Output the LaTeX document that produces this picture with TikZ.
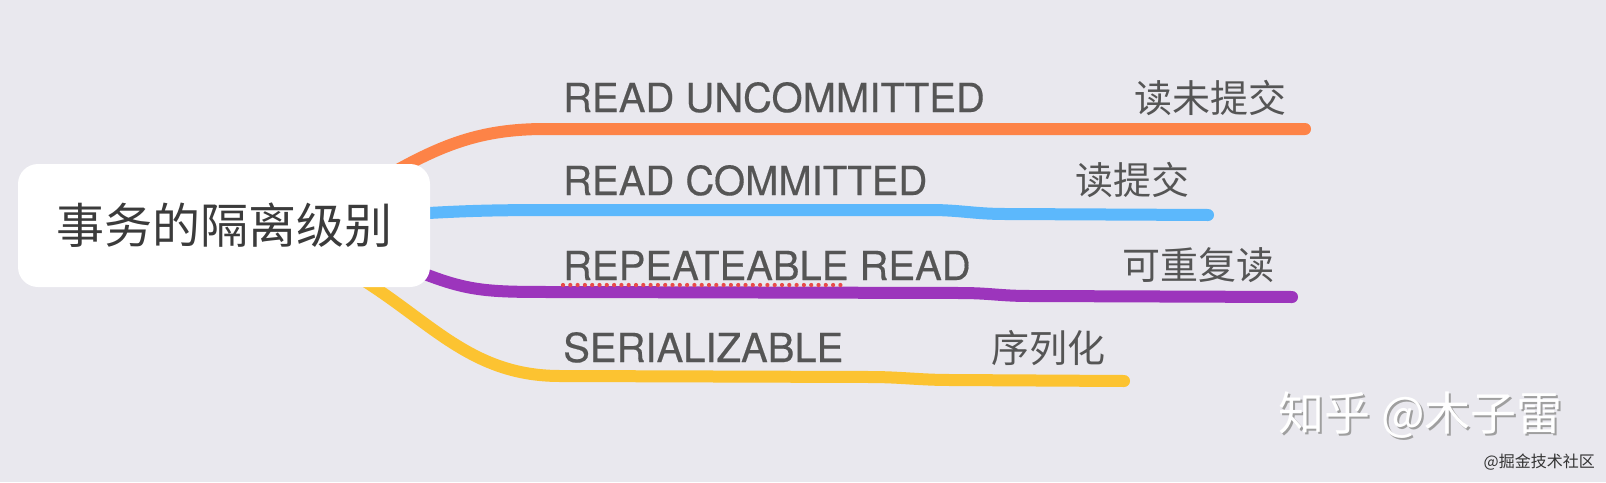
\documentclass[tikz,border=0pt]{standalone}
\usepackage{fontspec}
\setmainfont{TeX Gyre Heros}
\newfontfamily\enfont[FakeBold=0.4]{TeX Gyre Heros}
\newfontfamily\cjk{Noto Sans CJK SC}
\usepackage{tikz}
\usetikzlibrary{calc}
\usepackage{xcolor}
\definecolor{paper}{HTML}{E9E8EE}
\definecolor{brOrange}{HTML}{FD8347}
\definecolor{brBlue}{HTML}{5CB8FC}
\definecolor{brPurple}{HTML}{9C35BC}
\definecolor{brYellow}{HTML}{FCC331}
\definecolor{labelgrey}{HTML}{555555}
\definecolor{rootgrey}{HTML}{3B3B3B}
\definecolor{spellred}{HTML}{E84A4A}
\pgfdeclarelayer{bg}
\pgfdeclarelayer{edges}
\pgfsetlayers{bg,edges,main}

\begin{document}
\begin{tikzpicture}[
    x=1pt, y=-1pt,
    branch/.style={line width=12pt, line cap=round, #1},  % thick mind-map branch
    rootbox/.style={
        fill=white,
        rounded corners=20pt,
        minimum width=412pt,
        minimum height=123pt,
        text=rootgrey,
        font=\cjk\fontsize{48}{56}\selectfont
    },
    enlabel/.style={anchor=base west, inner sep=0pt, text=labelgrey,
        font=\enfont\fontsize{40}{46}\selectfont},
    cnlabel/.style={anchor=east, inner sep=0pt, text=labelgrey,
        font=\cjk\fontsize{38}{46}\selectfont}
]
\useasboundingbox (0,0) rectangle (1606,482);
\begin{pgfonlayer}{bg}
\fill[paper] (0,0) rectangle (1606,482);
\end{pgfonlayer}

% central topic
\node[rootbox] (root) at (224,225.5) {事务的隔离级别};

% level names
\node[enlabel] (en1) at (563,112) {READ UNCOMMITTED};
\node[enlabel] (en2) at (563,195) {READ COMMITTED};
\node[enlabel] (en3) at (563,280) {REPEATEABLE READ};
\node[enlabel] (en4) at (563,362) {SERIALIZABLE};

\node[cnlabel] (cn1) at (1287,97.5) {读未提交};
\node[cnlabel] (cn2) at (1190,180) {读提交};
\node[cnlabel] (cn3) at (1275,265) {可重复读};
\node[cnlabel] (cn4) at (1106,348) {序列化};

% branch end points
\coordinate (e1) at (1305,129);
\coordinate (e2) at (1208,215);
\coordinate (e3) at (1292,297);
\coordinate (e4) at (1124,381);

\begin{pgfonlayer}{edges}
\draw[branch=brOrange] ([shift={(-50,16)}]root.north east)
    .. controls +(60,-35) and +(-65,0) .. (545,129) -- (e1);
\draw[branch=brBlue] ([shift={(-10,-12)}]root.east)
    .. controls +(50,-3) and +(-60,0) .. (560,210) -- (930,210)
    .. controls (960,210) and (975,214) .. (1005,214) -- (e2);
\draw[branch=brPurple] ([shift={(-10,-15)}]root.south east)
    .. controls +(50,20) and +(-70,0) .. (560,292) -- (960,293)
    .. controls (990,293) and (1000,296) .. (1030,296) -- (e3);
\draw[branch=brYellow] ([shift={(-75,-12)}]root.south east)
    .. controls +(75,45) and +(-90,0) .. (560,376) -- (870,377)
    .. controls (900,377) and (920,380) .. (950,380) -- (e4);
\end{pgfonlayer}

% spell-check dots under REPEATEABLE
\draw[spellred, line width=4.2pt, line cap=round, dash pattern=on 0pt off 7.3pt]
    ([yshift=-5pt]en3.base west) -- ++(283,0);

% watermarks
\node[anchor=east, inner sep=0pt, text=gray!75, font=\cjk\fontsize{46}{52}\selectfont]
    (wmshadow) at (1565,417.5) {知乎 @木子雷};
\node[anchor=east, inner sep=0pt, text=white, font=\cjk\fontsize{46}{52}\selectfont]
    (wm) at (1563,415.5) {知乎 @木子雷};
\node[anchor=east, inner sep=0pt, text=black!80, font=\cjk\fontsize{16}{18}\selectfont]
    (wmsmall) at (1595,462.5) {@掘金技术社区};
\end{tikzpicture}
\end{document}
